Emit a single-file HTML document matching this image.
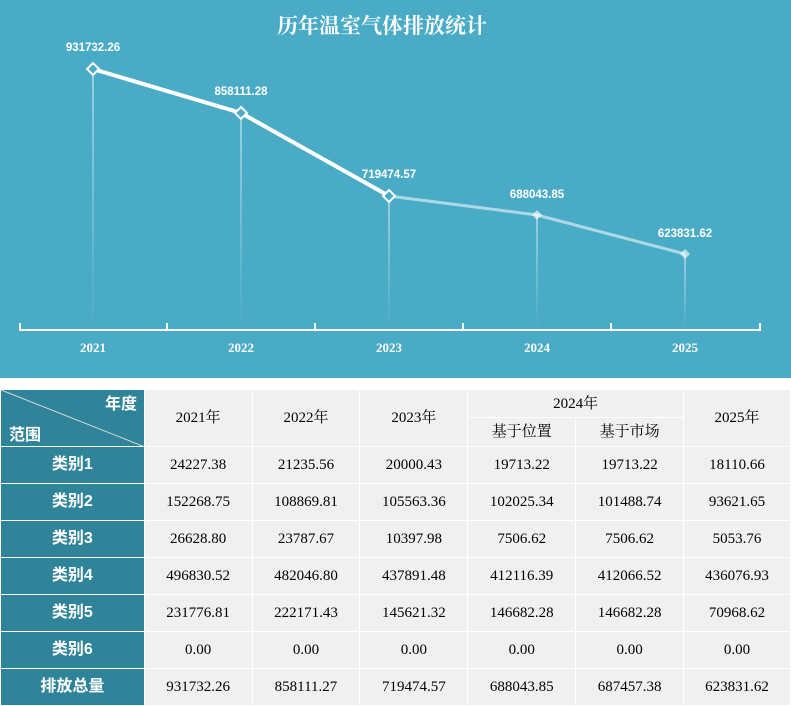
<!DOCTYPE html>
<html><head><meta charset="utf-8"><style>
body{margin:0;width:791px;height:704px;background:#fff;font-family:"Liberation Serif","Noto Serif CJK SC",serif;overflow:hidden}
#chart{position:absolute;left:0;top:0;width:791px;height:378px;background:#4aabc6}
table{position:absolute;left:0;top:389px;border-collapse:collapse;table-layout:fixed}
td{border:1px solid #fff;text-align:center;font-size:15px;line-height:16px;color:#000;background:#f0f0f0;padding:0;box-sizing:border-box}
td.h{background:#30849a;color:#fff;font-weight:bold;font-family:"Liberation Sans","Noto Sans CJK SC",sans-serif;font-size:16px}
tr.b{height:37px}
</style></head><body>
<div id="chart">
<svg width="791" height="378" font-family="Liberation Sans, Noto Sans CJK SC, sans-serif">
<defs><linearGradient id="g" x1="0" y1="0" x2="0" y2="1"><stop offset="0" stop-color="#fff" stop-opacity="0.9"/><stop offset="1" stop-color="#fff" stop-opacity="0"/></linearGradient></defs>
<text x="382" y="33" text-anchor="middle" fill="#fff" font-size="21" font-weight="bold" font-family="Liberation Serif, Noto Serif CJK SC, serif">历年温室气体排放统计</text>
<g fill="url(#g)"><rect x="92.5" y="69" width="1" height="260"/><rect x="240.5" y="113" width="1" height="216"/><rect x="388.5" y="196" width="1" height="133"/><rect x="536.5" y="215" width="1" height="114"/><rect x="684.5" y="254" width="1" height="75"/></g>
<polyline points="93,69 241,113 389,196" fill="none" stroke="#fff" stroke-width="4"/>
<polyline points="389,196 537,215 685,254" fill="none" stroke="#fff" stroke-opacity="0.55" stroke-width="3"/>
<g stroke="#fff" stroke-width="2" fill="#4aabc6"><path d="M93 63l6 6-6 6-6-6z"/><path d="M241 107l6 6-6 6-6-6z"/><path d="M389 190l6 6-6 6-6-6z"/></g>
<g fill="#fff" fill-opacity="0.6"><path d="M537 210l5 5-5 5-5-5z"/><path d="M685 249l5 5-5 5-5-5z"/></g>
<g fill="#fff" font-size="11.5" font-weight="bold" text-anchor="middle"><text x="93" y="51">931732.26</text><text x="241" y="95">858111.28</text><text x="389" y="178">719474.57</text><text x="537" y="198">688043.85</text><text x="685" y="237">623831.62</text></g>
<path d="M20 323V330H760V323M167 330V323M315 330V323M463 330V323M611 330V323" stroke="#fff" stroke-width="2" fill="none"/>
<g fill="#fff" font-size="13" font-weight="bold" text-anchor="middle" font-family="Liberation Serif, serif"><text x="93" y="352">2021</text><text x="241" y="352">2022</text><text x="389" y="352">2023</text><text x="537" y="352">2024</text><text x="685" y="352">2025</text></g>
</svg></div>
<table>
<colgroup><col style="width:144px"><col style="width:108px"><col style="width:108px"><col style="width:108px"><col style="width:108px"><col style="width:108px"><col style="width:107px"></colgroup>
<tr style="height:28px"><td class="h" rowspan="2" style="position:relative;padding:0"><svg width="144" height="57" style="position:absolute;left:0;top:0"><line x1="0" y1="0" x2="144" y2="57" stroke="#ddd" stroke-width="1"/><text x="136" y="19" text-anchor="end" fill="#fff" font-size="16" font-weight="bold">年度</text><text x="8" y="50" fill="#fff" font-size="16" font-weight="bold">范围</text></svg></td>
<td rowspan="2">2021年</td><td rowspan="2">2022年</td><td rowspan="2">2023年</td><td colspan="2">2024年</td><td rowspan="2">2025年</td></tr>
<tr style="height:29px"><td>基于位置</td><td>基于市场</td></tr>
<tr class="b"><td class="h">类别1</td><td>24227.38</td><td>21235.56</td><td>20000.43</td><td>19713.22</td><td>19713.22</td><td>18110.66</td></tr>
<tr class="b"><td class="h">类别2</td><td>152268.75</td><td>108869.81</td><td>105563.36</td><td>102025.34</td><td>101488.74</td><td>93621.65</td></tr>
<tr class="b"><td class="h">类别3</td><td>26628.80</td><td>23787.67</td><td>10397.98</td><td>7506.62</td><td>7506.62</td><td>5053.76</td></tr>
<tr class="b"><td class="h">类别4</td><td>496830.52</td><td>482046.80</td><td>437891.48</td><td>412116.39</td><td>412066.52</td><td>436076.93</td></tr>
<tr class="b"><td class="h">类别5</td><td>231776.81</td><td>222171.43</td><td>145621.32</td><td>146682.28</td><td>146682.28</td><td>70968.62</td></tr>
<tr class="b"><td class="h">类别6</td><td>0.00</td><td>0.00</td><td>0.00</td><td>0.00</td><td>0.00</td><td>0.00</td></tr>
<tr class="b"><td class="h">排放总量</td><td>931732.26</td><td>858111.27</td><td>719474.57</td><td>688043.85</td><td>687457.38</td><td>623831.62</td></tr>
</table>
</body></html>
